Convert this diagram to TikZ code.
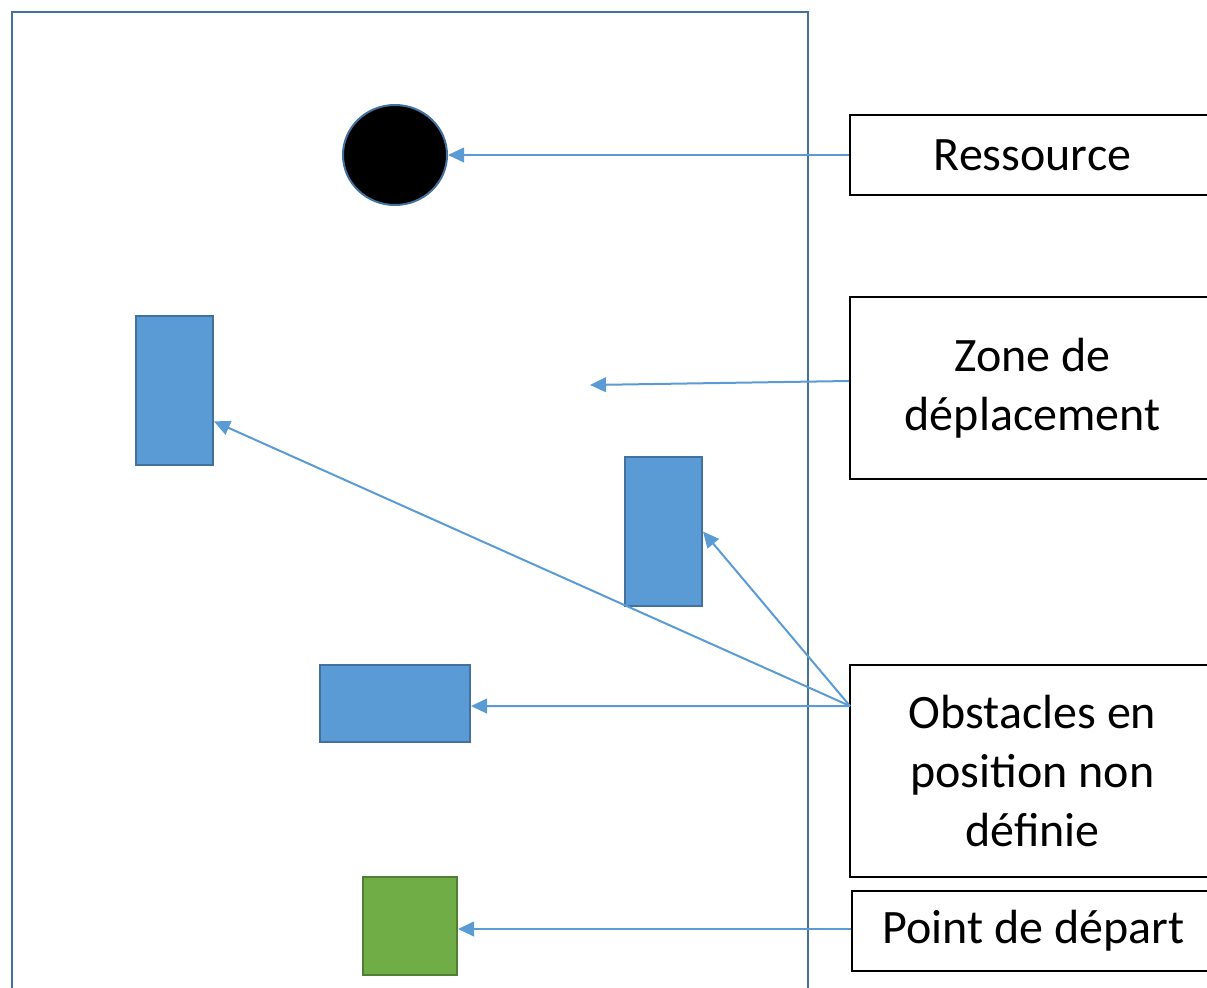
\documentclass[tikz,border=0pt]{standalone}
\usepackage{fontspec}
\setmainfont{Carlito}
\usetikzlibrary{arrows.meta,shapes}
\definecolor{bleu}{HTML}{5B9BD5}
\definecolor{bleufonce}{HTML}{41719C}
\definecolor{vert}{HTML}{70AD47}
\definecolor{vertfonce}{HTML}{507E32}
\tikzset{
  etiquette/.style = {rectangle, draw=black, line width=1.5pt, fill=white,
    align=center, inner sep=0pt, font=\fontsize{36}{44}\selectfont},% boite de legende
  obs_b/.style = {rectangle, draw=bleufonce, fill=bleu, line width=1.5pt,
    inner sep=0pt},% obstacle bleu
  depart_v/.style = {rectangle, draw=vertfonce, fill=vert, line width=1.5pt,
    inner sep=0pt},% point de depart vert
  res_n/.style = {ellipse, draw=bleufonce, fill=black, line width=1.5pt,
    inner sep=0pt},% ressource noire
  fleche/.style = {draw=bleu, line width=1.5pt,
    -{Triangle[length=12pt,width=11pt]}}% fleche de legende
}
\begin{document}
\begin{tikzpicture}[x=0.75pt,y=-0.75pt]
\useasboundingbox (0,0) rectangle (1207,988);
% zone de deplacement
\draw [bleufonce, line width=1.5pt] (12,1000) -- (12,12) -- (808,12) -- (808,1000);
% objets
\node [res_n, minimum width=78pt, minimum height=75pt] (res) at (395,155) {};
\node [obs_b, minimum width=57.75pt, minimum height=111.75pt] (obs1) at (174.5,390.5) {};
\node [obs_b, minimum width=57.75pt, minimum height=111.75pt] (obs2) at (663.5,531.5) {};
\node [obs_b, minimum width=112.5pt, minimum height=57.75pt] (obs3) at (395,703.5) {};
\node [depart_v, minimum width=70.5pt, minimum height=73.5pt] (dep) at (410,926) {};
% legendes
\node [etiquette, minimum width=273.75pt, minimum height=60pt] (l_res) at (1032.5,155) {Ressource};
\node [etiquette, minimum width=273.75pt, minimum height=136.5pt] (l_zone) at (1032.5,388) {Zone de\\déplacement};
\node [etiquette, minimum width=273.75pt, minimum height=159pt] (l_obs) at (1032.5,771) {Obstacles en\\position non\\définie};
\node [etiquette, minimum width=272.25pt, minimum height=60pt] (l_dep) at (1033.5,931) {Point de départ};
\coordinate (zone_pt) at (590,385);
\coordinate (obs_src) at (850,706);
% fleches
\draw [fleche] (l_res.west) -- (res.east);
\draw [fleche] ([yshift=5.25pt]l_zone.west) -- (zone_pt);
\draw [fleche] (obs_src) -- ([yshift=-1.9pt]obs3.east);
\draw [fleche] (obs_src) -- (obs1.-38);
\draw [fleche] (obs_src) -- (obs2.east);
\draw [fleche] ([yshift=1.5pt]l_dep.west) -- ([yshift=-2.25pt]dep.east);
\end{tikzpicture}
\end{document}
